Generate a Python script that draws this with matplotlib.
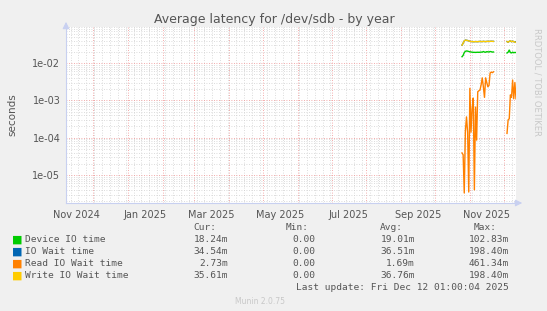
""" Munin style plot: average latency for /dev/sdb - by year
"""

import datetime as dt
import numpy as np
import matplotlib.pyplot as plt
import matplotlib.dates as mdates
from matplotlib.ticker import LogLocator, NullFormatter

# daily averages, two runs of data with a gap in between
seg1_start = dt.date(2025, 10, 25)
gap_days = 11
device_io_1 = [0.0147, 0.016, 0.019, 0.0205, 0.021, 0.0208, 0.0203, 0.020, 0.0197,
               0.0195, 0.0193, 0.0193, 0.0192, 0.0193, 0.0194, 0.0193, 0.0194, 0.0196,
               0.0195, 0.0203, 0.0196, 0.0194, 0.0201, 0.0199, 0.0197, 0.0203, 0.0200,
               0.0196, 0.0197]
device_io_2 = [0.0185, 0.0195, 0.0222, 0.019, 0.0186, 0.0195, 0.0188, 0.0192, 0.019]
io_wait_1 = [0.030, 0.034, 0.039, 0.041, 0.0405, 0.040, 0.039, 0.038, 0.0375, 0.0375,
             0.0372, 0.0372, 0.0375, 0.0373, 0.0372, 0.0376, 0.0378, 0.0375, 0.0374,
             0.0380, 0.0376, 0.0374, 0.0378, 0.0380, 0.0377, 0.0380, 0.0382, 0.0380,
             0.0379]
io_wait_2 = [0.0375, 0.036, 0.038, 0.0395, 0.037, 0.0385, 0.0372, 0.0365, 0.0372]
read_io_1 = [3.9e-5, 3.5e-5, 3.3e-6, 1.5e-4, 3.6e-4, 1.4e-4, 3.5e-6, 2.1e-3, 1.4e-4,
             6e-4, 1.15e-3, 4e-6, 6.6e-4, 8.6e-5, 1.7e-3, 1.8e-3, 1.9e-3, 2.6e-3,
             4e-3, 2.3e-3, 1.2e-3, 4e-3, 3e-3, 2.3e-3, 2.5e-3, 5.4e-3, 5.7e-3,
             5.5e-3, 5.8e-3]
read_io_2 = [1.3e-4, 3e-4, 3.2e-4, 1.4e-3, 1.2e-3, 3.5e-3, 1.1e-3, 3e-3, 1.1e-3]
write_io_1 = [0.030, 0.034, 0.039, 0.041, 0.0405, 0.040, 0.039, 0.038, 0.0375, 0.0375,
              0.0372, 0.0372, 0.0375, 0.0373, 0.0372, 0.0376, 0.0378, 0.0375, 0.0374,
              0.0380, 0.0376, 0.0374, 0.0378, 0.0380, 0.0377, 0.0380, 0.0382, 0.0380,
              0.0379]
write_io_2 = [0.0375, 0.036, 0.038, 0.0395, 0.037, 0.0385, 0.0372, 0.0365, 0.0355]

names = ['Device IO time', 'IO Wait time', 'Read IO Wait time', 'Write IO Wait time']
colors = ['#00cc00', '#0066b3', '#ff8000', '#ffcc00']
cur = ['18.24m', '34.54m', '2.73m', '35.61m']
mins = ['0.00', '0.00', '0.00', '0.00']
avg = ['19.01m', '36.51m', '1.69m', '36.76m']
maxs = ['102.83m', '198.40m', '461.34m', '198.40m']
x_labels = ['Nov 2024', 'Jan 2025', 'Mar 2025', 'May 2025', 'Jul 2025', 'Sep 2025', 'Nov 2025']
x_label_dates = [dt.date(2024, 11, 16), dt.date(2025, 1, 16), dt.date(2025, 3, 16),
                 dt.date(2025, 5, 16), dt.date(2025, 7, 16), dt.date(2025, 9, 16),
                 dt.date(2025, 11, 16)]


def join(a, b):
    return np.concatenate([a, np.full(gap_days, np.nan), b])


n = len(device_io_1) + gap_days + len(device_io_2)
days = [seg1_start + dt.timedelta(days=i) for i in range(n)]
series = [join(device_io_1, device_io_2), join(io_wait_1, io_wait_2),
          join(read_io_1, read_io_2), join(write_io_1, write_io_2)]

W, H = 547, 311
fig = plt.figure(figsize=(W / 100, H / 100), dpi=100, facecolor='#f0f0f0')
ax = fig.add_axes([66 / W, 1 - 203 / H, 450 / W, 176 / H], facecolor='white')

for vals, col in zip(series, colors):
    ax.plot(days, vals, color=col, lw=1.0)

ax.set_yscale('log')
ax.set_ylim(1.78e-6, 0.092)
ax.set_xlim(dt.date(2024, 11, 7), dt.date(2025, 12, 12))

ax.yaxis.set_major_locator(LogLocator(base=10, numticks=20))
ax.yaxis.set_minor_locator(LogLocator(base=10, subs=np.arange(2, 10), numticks=20))
ax.yaxis.set_minor_formatter(NullFormatter())
ax.set_yticks([1e-5, 1e-4, 1e-3, 1e-2])
ax.set_yticklabels(['1e-05', '1e-04', '1e-03', '1e-02'])

ax.xaxis.set_major_locator(mdates.MonthLocator())
ax.xaxis.set_minor_locator(mdates.WeekdayLocator(byweekday=mdates.MO))
ax.xaxis.set_major_formatter(NullFormatter())

ax.grid(which='minor', color='#d0d0d0', ls=(0, (1, 2)), lw=0.6)
ax.grid(which='major', color='#f09090', ls=(0, (1, 2)), lw=0.6)
ax.set_axisbelow(True)
ax.tick_params(which='both', length=0, labelsize=7, colors='#555555', pad=4)

for lbl, d in zip(x_labels, x_label_dates):
    ax.text(d, -0.04, lbl, transform=ax.get_xaxis_transform(), ha='center', va='top',
            fontsize=7, color='#555555')

for s in ['top', 'right']:
    ax.spines[s].set_visible(False)
for s in ['left', 'bottom']:
    ax.spines[s].set_color('#c8d0f0')
ax.annotate('', xy=(0, 1.045), xytext=(0, 0.98), xycoords='axes fraction',
            arrowprops=dict(arrowstyle='-|>', color='#c8d0f0', lw=0.8), annotation_clip=False)
ax.annotate('', xy=(1.02, 0), xytext=(0.99, 0), xycoords='axes fraction',
            arrowprops=dict(arrowstyle='-|>', color='#c8d0f0', lw=0.8), annotation_clip=False)

ax.set_ylabel('seconds', fontsize=7.5, color='#555555', labelpad=11)
fig.text(274 / W, 1 - 19 / H, 'Average latency for /dev/sdb - by year', ha='center',
         va='center', fontsize=9, color='#555555')
fig.text(537 / W, 1 - 28 / H, 'RRDTOOL / TOBI OETIKER', rotation=270, ha='center',
         va='top', fontsize=6, color='#c8c8c8')

mono = dict(family='DejaVu Sans Mono', fontsize=6.8, color='#555555', va='center')
for txt, x in zip(['Cur:', 'Min:', 'Avg:', 'Max:'], [216, 309, 403, 497]):
    fig.text(x / W, 1 - 228 / H, txt, ha='right', **mono)
for i, name in enumerate(names):
    y = 1 - (240 + 12 * i) / H
    fig.text(12 / W, y, '\u25a0', ha='left', family='DejaVu Sans', fontsize=8,
             color=colors[i], va='center')
    fig.text(25 / W, y, name, ha='left', **mono)
    fig.text(228 / W, y, cur[i], ha='right', **mono)
    fig.text(315 / W, y, mins[i], ha='right', **mono)
    fig.text(415 / W, y, avg[i], ha='right', **mono)
    fig.text(509 / W, y, maxs[i], ha='right', **mono)
fig.text(509 / W, 1 - 287 / H, 'Last update: Fri Dec 12 01:00:04 2025', ha='right', **mono)
fig.text(260 / W, 1 - 301 / H, 'Munin 2.0.75', ha='center', va='center', fontsize=5.5,
         color='#c8c8c8')

fig.savefig('out.png', dpi=100, facecolor=fig.get_facecolor())
